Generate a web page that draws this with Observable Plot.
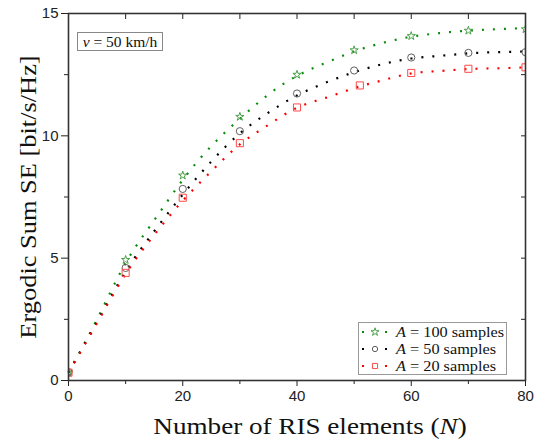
<!DOCTYPE html>
<html><head><meta charset="utf-8">
<script src="https://cdn.jsdelivr.net/npm/d3@7"></script>
<script src="https://cdn.jsdelivr.net/npm/@observablehq/plot@0.6"></script>
<style>
body{margin:0;background:#fff}
#wrap{position:relative;width:544px;height:443px;font-family:"Liberation Serif","DejaVu Serif",serif;color:#111}
#wrap svg.main{position:absolute;left:0;top:0;overflow:visible}
.lab{position:absolute;white-space:nowrap;font-size:24px}
#ylab{left:28px;top:197px;transform:translate(-50%,-50%) rotate(-90deg) scaleX(1.1)}
#xlab{left:310px;top:426px;transform:translate(-50%,-50%) scaleX(1.13)}
#ann{position:absolute;left:77px;top:32px;width:84px;height:17px;border:1px solid #888;background:#fff;font-size:15.5px;line-height:17px;text-align:center}
#leg{position:absolute;left:358px;top:322px;width:147px;height:51px;border:1px solid #999;background:#fff;font-size:15.5px}
.row{position:absolute;left:0;height:16px;line-height:16px}
.row svg{position:absolute;left:0;top:0}
.row span{position:absolute;left:37px;top:0;white-space:nowrap;transform-origin:left center;transform:scaleX(1.05)}
i{font-style:italic}
</style></head><body><div id="wrap"></div>
<script>
// Curves (dotted lines), read at every 5 elements
const N_line = [0,5,10,15,20,25,30,35,40,45,50,55,60,65,70,75,80];
const se100_line = [0.33,2.5,4.8,6.55,8.2,9.58,10.7,11.69,12.45,12.98,13.45,13.8,14.05,14.2,14.3,14.36,14.4];
const se50_line  = [0.33,2.4,4.45,6.1,7.6,8.95,10.1,10.95,11.65,12.17,12.6,12.93,13.16,13.27,13.37,13.42,13.45];
const se20_line  = [0.32,2.35,4.35,5.95,7.35,8.55,9.65,10.45,11.15,11.55,11.95,12.27,12.55,12.65,12.73,12.76,12.8];
// Markers (simulation samples)
const N_mark   = [0,10,20,30,40,50,60,70,80];
const N_mark20 = [0,10,20,30,40,51,60,70,80];
const se100_mark = [0.34,4.93,8.38,10.78,12.5,13.5,14.08,14.3,14.36];
const se50_mark  = [0.34,4.6,7.83,10.19,11.73,12.67,13.2,13.39,13.42];
const se20_mark  = [0.32,4.4,7.47,9.7,11.16,12.06,12.57,12.74,12.8];
const seriesNames = ["100","50","20"];
const xTicks = [0,20,40,60,80];
const xMinor = [10,30,50,70];
const yTicks = [0,5,10,15];
const yMinor = [2.5,7.5,12.5];

const colors = {"100":"#0a8a0a","50":"#000000","20":"#ff0000"};
const mcolors = {"100":"#4aa04a","50":"#606060","20":"#ff4a4a"};
const symbols = {"100":"star","50":"circle","20":"square"};

const lineData = [];
const lineVals = {"100":se100_line,"50":se50_line,"20":se20_line};
for (const s of seriesNames) N_line.forEach((n,i)=>lineData.push({s, n, v: lineVals[s][i]}));
const markData = [];
const markVals = {"100":se100_mark,"50":se50_mark,"20":se20_mark};
const markN = {"100":N_mark,"50":N_mark,"20":N_mark20};
for (const s of seriesNames) markN[s].forEach((n,i)=>markData.push({s, n, v: markVals[s][i]}));

const chart = Plot.plot({
  width: 544, height: 443,
  marginLeft: 68, marginRight: 19, marginTop: 13, marginBottom: 63,
  style: {fontFamily: "Liberation Sans, Arial, sans-serif", fontSize: "15px", color: "#222", background: "transparent"},
  x: {domain: [0, 80]},
  y: {domain: [0, 15]},
  marks: [
    ...seriesNames.map(s => Plot.line(lineData.filter(d=>d.s===s), {
      x: "n", y: "v", curve: "natural", stroke: colors[s], strokeWidth: 2.2,
      strokeDasharray: "2,9", strokeLinecap: "butt"
    })),
    ...seriesNames.map(s => Plot.dot(markData.filter(d=>d.s===s), {
      x: "n", y: "v", symbol: () => symbols[s], stroke: mcolors[s], fill: "none",
      r: s==="20" ? 4 : (s==="100" ? 2.6 : 3.6), strokeWidth: 1, clip: true
    })),
    Plot.axisY({ticks: yTicks, tickSize: 7, tickPadding: 3, label: null, fontSize: 15}),
    Plot.axisY({ticks: yMinor, tickSize: 4, text: null, label: null}),
    Plot.axisY({anchor: "right", ticks: [...yTicks, ...yMinor], tickSize: -5, text: null, label: null}),
    Plot.axisX({ticks: xTicks, tickSize: 6, tickPadding: 4, label: null, fontSize: 15}),
    Plot.axisX({ticks: xMinor, tickSize: 4, text: null, label: null}),
    Plot.axisX({anchor: "top", ticks: [...xTicks, ...xMinor], tickSize: -5, text: null, label: null}),
    Plot.frame({stroke: "#333", strokeWidth: 1.6})
  ]
});
chart.classList.add("main");
const wrap = document.getElementById("wrap");
wrap.appendChild(chart);

function addDiv(id, cls, html){const d=document.createElement("div"); if(id) d.id=id; if(cls) d.className=cls; d.innerHTML=html; wrap.appendChild(d); return d;}
addDiv("ylab","lab","Ergodic Sum SE [bit/s/Hz]");
addDiv("xlab","lab","Number of RIS elements (<i>N</i>)");
addDiv("ann",null,"<i>v</i> = 50 km/h");
const leg = addDiv("leg",null,"");
const legLabels = {"100":"<i>A</i> = 100 samples","50":"<i>A</i> = 50 samples","20":"<i>A</i> = 20 samples"};
const symGen = {"star":d3.symbolStar,"circle":d3.symbolCircle,"square":d3.symbolSquare};
seriesNames.forEach((s,i)=>{
  const row = document.createElement("div");
  row.className = "row"; row.style.top = (1 + i*17) + "px"; row.style.width = "147px";
  const path = d3.symbol(symGen[symbols[s]], s==="100"?20:(s==="20"?26:22))();
  row.innerHTML = `<svg width="36" height="16"><line x1="3" x2="28" y1="8" y2="8" stroke="${colors[s]}" stroke-width="2.2" stroke-dasharray="2,21"/><path d="${path}" transform="translate(16,8)" fill="white" stroke="${mcolors[s]}" stroke-width="1"/></svg><span>${legLabels[s]}</span>`;
  leg.appendChild(row);
});
</script>
</body></html>
